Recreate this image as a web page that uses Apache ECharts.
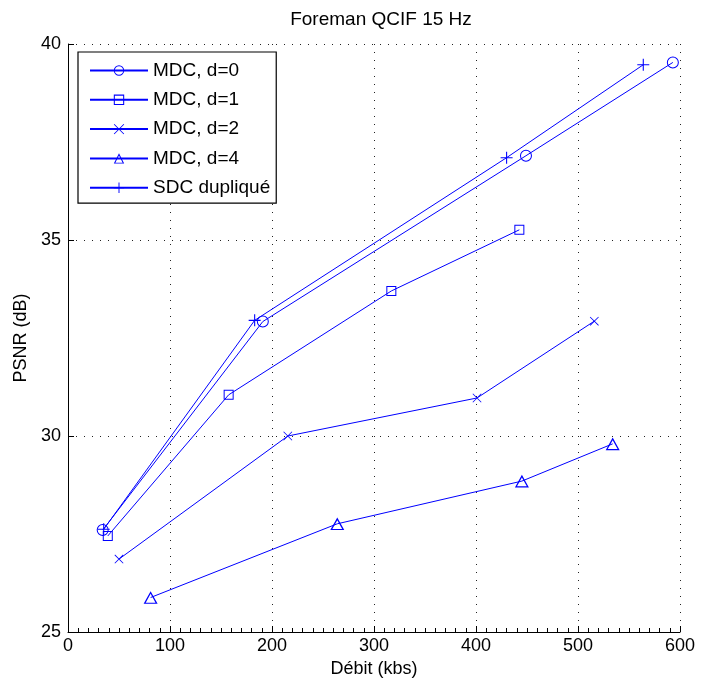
<!DOCTYPE html>
<html>
<head>
<meta charset="utf-8">
<script src="https://cdn.jsdelivr.net/npm/echarts@6/dist/echarts.min.js"></script>
<style>html,body{margin:0;padding:0;background:#fff}#c{width:703px;height:686px}</style>
</head>
<body>
<div id="c"></div>
<script>
var title = 'Foreman QCIF 15 Hz';
var xName = 'Débit (kbs)';
var yName = 'PSNR (dB)';
var seriesNames = ['MDC, d=0', 'MDC, d=1', 'MDC, d=2', 'MDC, d=4', 'SDC dupliqué'];
var mdc0 = [[34, 27.6], [191, 32.92], [449, 37.15], [593, 39.53]];
var mdc1 = [[39, 27.45], [157.5, 31.05], [317, 33.7], [442.5, 35.26]];
var mdc2 = [[50, 26.86], [215.5, 30.0], [401, 30.97], [516, 32.93]];
var mdc4 = [[81, 25.88], [264, 27.76], [445, 28.85], [534, 29.8]];
var sdc = [[35, 27.62], [183, 32.95], [430, 37.1], [564, 39.47]];

var blue = '#0000ff';
var circlePath = 'path://M0,5a5,5 0 1,0 10,0a5,5 0 1,0 -10,0z M0.85,5a4.15,4.15 0 1,1 8.3,0a4.15,4.15 0 1,1 -8.3,0z';
var rectPath = 'path://M0,0H10V10H0Z M1,1V9H9V1Z';
var triPath = 'path://M5,0L10,9L0,9Z M5,1.9L1.5,8.2H8.5Z';
var plusPath = 'path://M4.55,0h0.9v10h-0.9z M0,4.55h10v0.9h-10z';
var xPath = 'path://M0,0.6L0.6,0L10,9.4L9.4,10Z M9.4,0L10,0.6L0.6,10L0,9.4Z';
var symbols = [circlePath, rectPath, xPath, triPath, plusPath];
var sizes = [12, 10, 9, [14, 12.6], 12];
var datas = [mdc0, mdc1, mdc2, mdc4, sdc];

var series = seriesNames.map(function (n, i) {
  return {
    name: n,
    type: 'line',
    data: datas[i],
    symbol: symbols[i],
    symbolSize: sizes[i],
    showAllSymbol: true,
    animation: false,
    lineStyle: { color: blue, width: 1 },
    itemStyle: { color: blue, borderWidth: 0 }
  };
});

var font = 'Liberation Sans, Arial, Helvetica, sans-serif';
var chart = echarts.init(document.getElementById('c'), null, { renderer: 'canvas' });
chart.setOption({
  backgroundColor: '#fff',
  animation: false,
  title: {
    text: title, left: 376, top: 5, textAlign: 'center',
    textStyle: { fontFamily: font, fontSize: 19, fontWeight: 'normal', color: '#000' }
  },
  grid: { left: 68, right: 23, top: 44, bottom: 54, containLabel: false },
  legend: {
    left: 78, top: 52,
    orient: 'vertical',
    data: seriesNames,
    itemWidth: 58, itemHeight: 13, itemGap: 10.3,
    padding: [9, 6, 6, 11],
    borderColor: '#000', borderWidth: 1.2,
    backgroundColor: '#fff',
    textStyle: { fontFamily: font, fontSize: 19, color: '#000' }
  },
  xAxis: {
    type: 'value', min: 0, max: 600, interval: 100,
    name: xName, nameLocation: 'middle', nameGap: 24,
    nameTextStyle: { fontFamily: font, fontSize: 18, color: '#000' },
    axisLine: { show: true, onZero: false, lineStyle: { color: '#000', width: 1 } },
    axisTick: { show: true, inside: true, length: 6, lineStyle: { color: '#000' } },
    minorTick: { show: true, splitNumber: 10, length: 4, lineStyle: { color: '#000', width: 1 } },
    axisLabel: { fontFamily: font, fontSize: 18, color: '#000', margin: 5 },
    splitLine: { show: true, lineStyle: { color: '#222', type: [1, 7], width: 1 } }
  },
  yAxis: {
    type: 'value', min: 25, max: 40, interval: 5,
    name: yName, nameLocation: 'middle', nameGap: 37, nameRotate: 90,
    nameTextStyle: { fontFamily: font, fontSize: 18, color: '#000' },
    axisLine: { show: true, onZero: false, lineStyle: { color: '#000', width: 1 } },
    axisTick: { show: true, inside: true, length: 6, lineStyle: { color: '#000' } },
    axisLabel: { fontFamily: font, fontSize: 18, color: '#000', margin: 7 },
    splitLine: { show: true, lineStyle: { color: '#222', type: [1, 7], width: 1 } }
  },
  series: series
});
</script>
</body>
</html>
